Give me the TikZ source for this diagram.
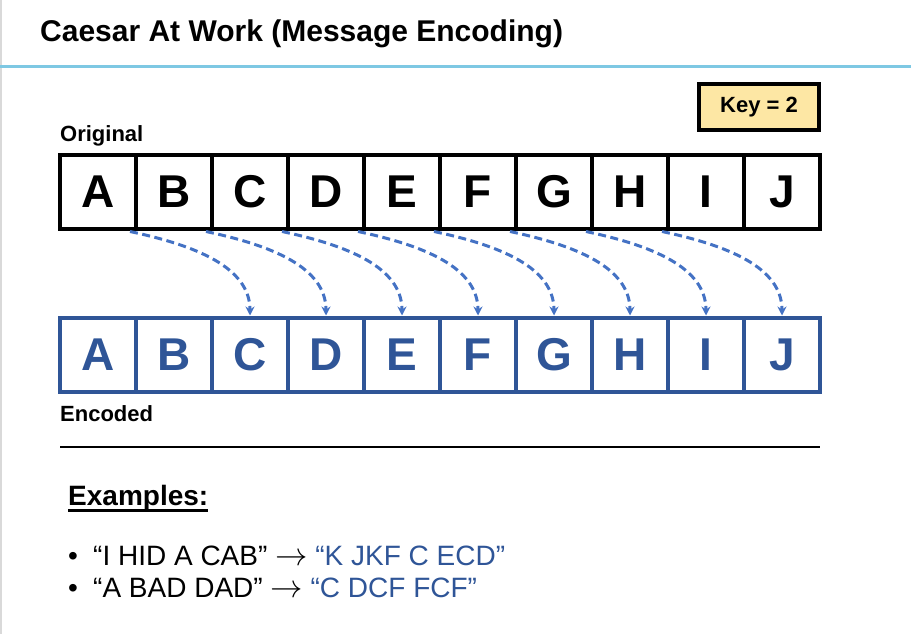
\documentclass[tikz,border=0pt]{standalone}
\usepackage{fontspec}
\setmainfont{Liberation Sans}
\usetikzlibrary{positioning}
\usetikzlibrary{arrows.meta}
\definecolor{encblue}{RGB}{47,85,151}
\definecolor{arrowblue}{RGB}{68,114,196}
\definecolor{ruleblue}{RGB}{126,200,227}
\definecolor{keyyellow}{RGB}{253,231,164}
\newcommand{\maparrow}{\scalebox{1.3}{$\rightarrow$}}

\begin{document}
\begin{tikzpicture}[x=1pt,y=1pt,
         letter/.style = {draw, line width=4pt, minimum width=76pt,
         minimum height=74pt, inner sep=0pt, outer sep=0pt,
         font=\bfseries\fontsize{46}{46}\selectfont},
         origbox/.style = {letter, black},
         codebox/.style = {letter, encblue},
         lbl/.style = {inner sep=0pt, font=\bfseries\fontsize{22}{22}\selectfont},
         keybox/.style = {draw, line width=4pt, fill=keyyellow, minimum width=120pt,
         minimum height=45pt, inner sep=0pt, outer sep=0pt,
         font=\bfseries\fontsize{22}{22}\selectfont},
         bodytext/.style = {inner sep=0pt, font=\fontsize{28}{28}\selectfont},
         shiftarrow/.style = {arrowblue, line width=3pt, dash pattern=on 8pt off 4.5pt,
         -{Stealth[length=9pt,width=9pt]}}]

         \useasboundingbox (0,0) rectangle (911,-634);
         \draw[black!15, line width=1.5pt] (0.75,0) -- (0.75,-634);

         % heading
         \node[bodytext, anchor=base west, font=\bfseries\fontsize{30}{30}\selectfont]
            (title) at (40,-42) {Caesar At Work (Message Encoding)};
         \draw[ruleblue, line width=3pt] (0,-67) -- (911,-67);

         % original row
         \node[origbox]                     (o1) at (98,-191.5) {A};
         \node[origbox, right=0pt of o1]    (o2) {B};
         \node[origbox, right=0pt of o2]    (o3) {C};
         \node[origbox, right=0pt of o3]    (o4) {D};
         \node[origbox, right=0pt of o4]    (o5) {E};
         \node[origbox, right=0pt of o5]    (o6) {F};
         \node[origbox, right=0pt of o6]    (o7) {G};
         \node[origbox, right=0pt of o7]    (o8) {H};
         \node[origbox, right=0pt of o8]    (o9) {I};
         \node[origbox, right=0pt of o9]    (o10) {J};

         \node[lbl, anchor=base west] (orig) at ([yshift=13pt]o1.north west) {Original};
         \node[keybox, anchor=south east] (key) at ([xshift=-1pt,yshift=25pt]o10.north east) {Key = 2};

         % encoded row
         \node[codebox, below=89pt of o1]   (e1) {A};
         \node[codebox, right=0pt of e1]    (e2) {B};
         \node[codebox, right=0pt of e2]    (e3) {C};
         \node[codebox, right=0pt of e3]    (e4) {D};
         \node[codebox, right=0pt of e4]    (e5) {E};
         \node[codebox, right=0pt of e5]    (e6) {F};
         \node[codebox, right=0pt of e6]    (e7) {G};
         \node[codebox, right=0pt of e7]    (e8) {H};
         \node[codebox, right=0pt of e8]    (e9) {I};
         \node[codebox, right=0pt of e9]    (e10) {J};

         \node[lbl, anchor=base west] (enc) at ([yshift=-29.5pt]e1.south west) {Encoded};

         % shift by two
         \draw[shiftarrow] ([xshift=-6pt,yshift=-3pt]o1.south east) to[out=-12,in=90,out looseness=1.15,in looseness=0.85] ([yshift=2pt]e3.north);
         \draw[shiftarrow] ([xshift=-6pt,yshift=-3pt]o2.south east) to[out=-12,in=90,out looseness=1.15,in looseness=0.85] ([yshift=2pt]e4.north);
         \draw[shiftarrow] ([xshift=-6pt,yshift=-3pt]o3.south east) to[out=-12,in=90,out looseness=1.15,in looseness=0.85] ([yshift=2pt]e5.north);
         \draw[shiftarrow] ([xshift=-6pt,yshift=-3pt]o4.south east) to[out=-12,in=90,out looseness=1.15,in looseness=0.85] ([yshift=2pt]e6.north);
         \draw[shiftarrow] ([xshift=-6pt,yshift=-3pt]o5.south east) to[out=-12,in=90,out looseness=1.15,in looseness=0.85] ([yshift=2pt]e7.north);
         \draw[shiftarrow] ([xshift=-6pt,yshift=-3pt]o6.south east) to[out=-12,in=90,out looseness=1.15,in looseness=0.85] ([yshift=2pt]e8.north);
         \draw[shiftarrow] ([xshift=-6pt,yshift=-3pt]o7.south east) to[out=-12,in=90,out looseness=1.15,in looseness=0.85] ([yshift=2pt]e9.north);
         \draw[shiftarrow] ([xshift=-6pt,yshift=-3pt]o8.south east) to[out=-12,in=90,out looseness=1.15,in looseness=0.85] ([yshift=2pt]e10.north);

         % separator
         \coordinate (s1) at ([yshift=-55.5pt]e1.south west);
         \draw[line width=2.5pt] (s1) -- (s1 -| e10.east);

         % examples
         \node[bodytext, anchor=base west, font=\bfseries\fontsize{28}{28}\selectfont]
            (ex) at (68,-505) {Examples:};
         \draw[line width=2.5pt] ([yshift=-5.5pt]ex.base west) -- ([yshift=-5.5pt]ex.base east);

         \node[bodytext, anchor=base] (b1) at (73,-565) {•};
         \node[bodytext, anchor=base] (b2) at (73,-597) {•};
         \node[bodytext, anchor=base west] (t1) at (93,-565)
            {“I HID A CAB” \maparrow{} \textcolor{encblue}{“K JKF C ECD”}};
         \node[bodytext, anchor=base west] (t2) at (93,-597)
            {“A BAD DAD” \maparrow{} \textcolor{encblue}{“C DCF FCF”}};

\end{tikzpicture}
\end{document}
